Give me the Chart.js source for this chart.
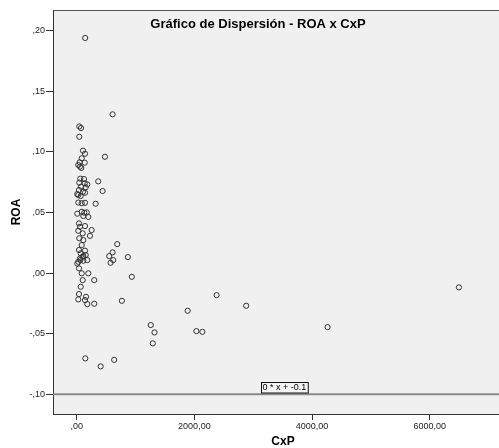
<!DOCTYPE html>
<html>
<head>
<meta charset="utf-8">
<script src="https://cdn.jsdelivr.net/npm/chart.js@4/dist/chart.umd.min.js"></script>
<style>
    html, body { margin: 0; padding: 0; background: #ffffff; }
    canvas { display: block; }
</style>
</head>
<body>
<canvas id="scatter" width="499" height="448"></canvas>
<script>
// CxP (cuentas por pagar) against ROA, one point per company
const cxp = [
    144, 610, 44, 73, 44, 107, 141, 480, 85, 51, 136, 27, 56, 78,
    61, 124, 44, 136, 180, 73, 153, 39, 107, 141, 10, 27, 68, 366, 440,
    27, 85, 141, 322, 10, 85, 129, 170, 112, 197,
    39, 56, 141, 254, 27, 102, 225, 44, 112, 85, 688,
    39, 141, 68, 610, 112, 153, 553, 870, 102, 56, 620, 180, 112, 61, 27, 576, 10,
    39, 85, 197, 937, 102, 298, 68, 39, 158, 2378, 27, 141, 768, 180, 298,
    2881, 1886, 1259, 4264, 2034, 2136, 1322, 1293, 146, 637, 407, 6497
];
const roa = [
    0.194, 0.131, 0.121, 0.1197, 0.1125, 0.101, 0.0985, 0.096, 0.0947, 0.0914, 0.0911, 0.0892, 0.0878, 0.0868,
    0.0779, 0.0776, 0.0746, 0.0741, 0.0732, 0.0713, 0.0708, 0.0685, 0.0671, 0.0663, 0.0652, 0.0644, 0.0636, 0.0757, 0.0677,
    0.0582, 0.0576, 0.0580, 0.0572, 0.0490, 0.0506, 0.0498, 0.0501, 0.0471, 0.0463,
    0.0410, 0.0382, 0.0388, 0.0355, 0.0349, 0.0328, 0.0307, 0.0287, 0.0272, 0.0231, 0.0239,
    0.0190, 0.0185, 0.0163, 0.0171, 0.0140, 0.0149, 0.0140, 0.0132, 0.0135, 0.0121, 0.0107, 0.0107, 0.0102, 0.0107, 0.0093, 0.0085, 0.0078,
    0.0039, -0.0002, -0.0002, -0.0031, -0.0058, -0.0058, -0.0113, -0.0173, -0.0196, -0.0182, -0.0217, -0.0223, -0.0229, -0.0256, -0.0253,
    -0.0270, -0.0311, -0.0429, -0.0446, -0.0479, -0.0485, -0.0490, -0.0580, -0.0704, -0.0716, -0.0770, -0.0118
];

// reference line y = 0 * x + -0.1
const fitSlope = 0;
const fitIntercept = -0.1;
const fitLabel = '0 * x + -0.1';

const xTicks = [0, 2000, 4000, 6000];
const yTicks = [-0.10, -0.05, 0.00, 0.05, 0.10, 0.15, 0.20];
const xMin = -403, xMax = 7178;
const yMin = -0.1163, yMax = 0.2171;

const FONT = '"Liberation Sans", Arial, sans-serif';

// SPSS style numbers: comma decimals, no leading zero
function spssNumber(v) {
    let s = Math.abs(v).toFixed(2).replace('.', ',');
    if (s.indexOf('0,') === 0) s = s.slice(1);
    return (v < 0 ? '-' : '') + s;
}

const points = cxp.map((x, i) => ({ x: x, y: roa[i] }));
const fitPoints = [xMin, xMax].map(x => ({ x: x, y: fitSlope * x + fitIntercept }));

const frame = {
    id: 'frame',
    beforeDraw(chart) {
        const { ctx, chartArea: a } = chart;
        ctx.save();
        ctx.fillStyle = '#f0f0f0';
        ctx.fillRect(a.left, a.top, a.right - a.left, a.bottom - a.top);
        ctx.strokeStyle = '#555';
        ctx.lineWidth = 1;
        ctx.beginPath();
        ctx.moveTo(a.left, a.top + 0.5);
        ctx.lineTo(a.right, a.top + 0.5);
        ctx.stroke();
        ctx.restore();
    },
    afterDraw(chart) {
        const { ctx, scales } = chart;
        ctx.save();
        ctx.fillStyle = '#000';

        ctx.font = 'bold 13px ' + FONT;
        ctx.textAlign = 'center';
        ctx.textBaseline = 'middle';
        ctx.fillText('Gráfico de Dispersión - ROA x CxP', 258, 24);

        ctx.font = 'bold 12px ' + FONT;
        ctx.fillText('CxP', 283, 442);
        ctx.save();
        ctx.translate(17, 212);
        ctx.rotate(-Math.PI / 2);
        ctx.fillText('ROA', 0, 0);
        ctx.restore();

        // equation label sitting on the reference line
        const bx = Math.round(scales.x.getPixelForValue(3130)) + 0.5;
        const by = Math.round(scales.y.getPixelForValue(fitIntercept));
        ctx.font = '9px ' + FONT;
        const w = ctx.measureText(fitLabel).width + 3;
        ctx.fillStyle = '#f4f4f4';
        ctx.fillRect(bx, by - 11, w, 10);
        ctx.strokeStyle = '#111';
        ctx.lineWidth = 1;
        ctx.strokeRect(bx, by - 11.5, w, 10.5);
        ctx.fillStyle = '#000';
        ctx.textAlign = 'left';
        ctx.fillText(fitLabel, bx + 1, by - 6);
        ctx.restore();
    }
};

new Chart(document.getElementById('scatter').getContext('2d'), {
    type: 'scatter',
    plugins: [frame],
    data: {
        datasets: [
            {
                label: 'ROA',
                data: points,
                order: 1,
                pointRadius: 2.6,
                pointBorderWidth: 1,
                pointBorderColor: '#333',
                pointBackgroundColor: 'rgba(0,0,0,0)'
            },
            {
                type: 'line',
                label: 'fit',
                data: fitPoints,
                order: 2,
                borderColor: '#8a8a8a',
                borderWidth: 1.8,
                pointRadius: 0,
                fill: false
            }
        ]
    },
    options: {
        responsive: false,
        animation: false,
        events: [],
        layout: { autoPadding: false, padding: { top: 10, left: 0, right: 0, bottom: 0 } },
        plugins: {
            legend: { display: false },
            title: { display: false },
            tooltip: { enabled: false }
        },
        scales: {
            x: {
                type: 'linear',
                min: xMin,
                max: xMax,
                afterBuildTicks: s => { s.ticks = xTicks.map(v => ({ value: v })); },
                afterFit: s => { s.height = 34; s.paddingLeft = 0; s.paddingRight = 0; },
                border: { display: true, color: '#333', width: 1 },
                grid: { drawOnChartArea: false, drawTicks: true, tickLength: 6, color: '#333' },
                ticks: {
                    padding: 1,
                    color: '#222',
                    maxRotation: 0,
                    font: { family: FONT, size: 9 },
                    callback: v => spssNumber(v)
                }
            },
            y: {
                type: 'linear',
                min: yMin,
                max: yMax,
                afterBuildTicks: s => { s.ticks = yTicks.map(v => ({ value: v })); },
                afterFit: s => { s.width = 53; },
                border: { display: true, color: '#333', width: 1 },
                grid: { drawOnChartArea: false, drawTicks: true, tickLength: 7, color: '#333' },
                ticks: {
                    padding: 1,
                    color: '#222',
                    font: { family: FONT, size: 9 },
                    callback: v => spssNumber(v)
                }
            }
        }
    }
});
</script>
</body>
</html>
